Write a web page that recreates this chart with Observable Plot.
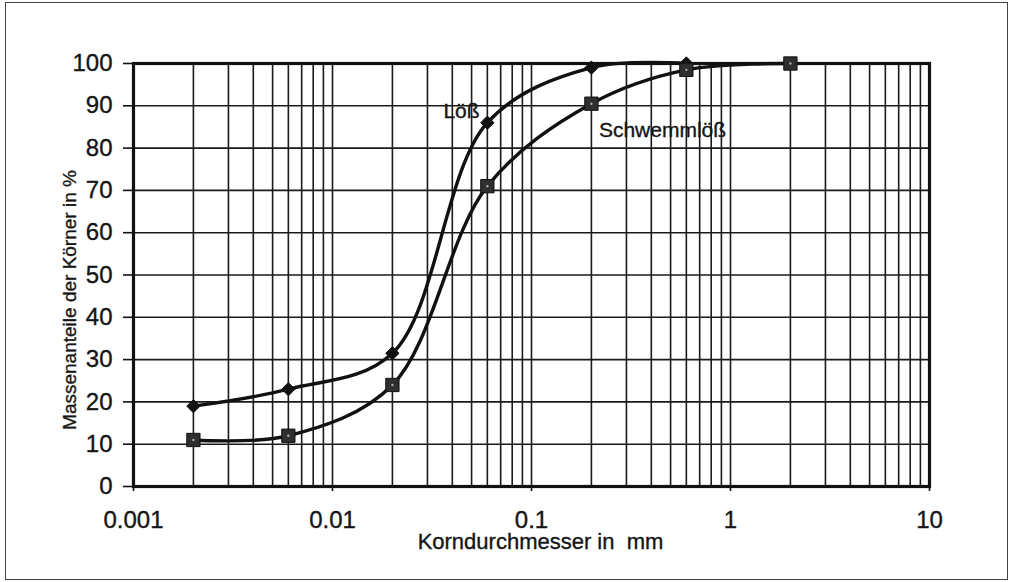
<!DOCTYPE html>
<html>
<head>
<meta charset="utf-8">
<script src="https://cdn.jsdelivr.net/npm/d3@7"></script>
<script src="https://cdn.jsdelivr.net/npm/@observablehq/plot@0.6"></script>
<style>
  html, body { margin: 0; padding: 0; background: #fff; }
  #wrap { position: relative; width: 1010px; height: 582px; }
  #border { position: absolute; left: 5px; top: 2px; width: 1003px; height: 578px;
            box-sizing: border-box; border: 1.5px solid #444; pointer-events: none; }
  #wrap svg text { stroke: #151515; stroke-width: 0.35px; }
</style>
</head>
<body>
<div id="wrap"><div id="border"></div></div>
<script>
// Data
const sizesLoess   = [0.002, 0.006, 0.02, 0.06, 0.2, 0.6];
const valuesLoess  = [19, 23, 31.5, 86, 99, 100];
const sizesSchwemm = [0.002, 0.006, 0.02, 0.06, 0.2, 0.6, 2];
const valuesSchwemm= [11, 12, 24, 71, 90.5, 98.5, 100];
const seriesNames  = ["Löß", "Schwemmlöß"];

const xTickValues = [0.001, 0.01, 0.1, 1, 10];
const xTickLabels = ["0.001", "0.01", "0.1", "1", "10"];
const yTickValues = [0, 10, 20, 30, 40, 50, 60, 70, 80, 90, 100];
const xGridValues = [
  0.002, 0.003, 0.004, 0.005, 0.006, 0.007, 0.008, 0.009,
  0.01, 0.02, 0.03, 0.04, 0.05, 0.06, 0.07, 0.08, 0.09,
  0.1, 0.2, 0.3, 0.4, 0.5, 0.6, 0.7, 0.8, 0.9,
  1, 2, 3, 4, 5, 6, 7, 8, 9
];
const xTitle = "Korndurchmesser in\u00a0 mm";
const yTitle = "Massenanteile der Körner in %";

const loess = sizesLoess.map((d, i) => ({x: d, y: valuesLoess[i]}));
const schwemm = sizesSchwemm.map((d, i) => ({x: d, y: valuesSchwemm[i]}));

const font = "'Liberation Sans', Arial, Helvetica, sans-serif";

const chart = Plot.plot({
  width: 1010,
  height: 582,
  marginTop: 63,
  marginRight: 81,
  marginBottom: 96,
  marginLeft: 133,
  style: {fontFamily: font, background: "transparent", color: "#111"},
  x: {type: "log", domain: [0.001, 10]},
  y: {domain: [0, 100]},
  marks: [
    Plot.ruleX(xGridValues, {stroke: "#1a1a1a", strokeWidth: 1.6}),
    Plot.ruleY(yTickValues, {stroke: "#1a1a1a", strokeWidth: 1.6}),
    Plot.frame({stroke: "#111", strokeWidth: 3.2}),
    Plot.axisY(yTickValues, {tickSize: 10, tickPadding: 11, fontSize: 24, label: null, strokeWidth: 1.6, stroke: "#111", fill: "#151515"}),
    Plot.axisX(xTickValues, {tickSize: 5, tickPadding: 19, fontSize: 24, label: null, strokeWidth: 1.6, stroke: "#111", fill: "#151515",
      tickFormat: d => xTickLabels[xTickValues.indexOf(d)]}),
    Plot.line(loess, {x: "x", y: "y", curve: "catmull-rom", stroke: "#111", strokeWidth: 3.4}),
    Plot.line(schwemm, {x: "x", y: "y", curve: "catmull-rom", stroke: "#111", strokeWidth: 3.4}),
    Plot.dot(loess, {x: "x", y: "y", symbol: "diamond2", r: 6, fill: "#111", stroke: "#111", strokeWidth: 1}),
    Plot.dot(schwemm, {x: "x", y: "y", symbol: "square", r: 7.5, fill: "#2e2e2e", stroke: "#111", strokeWidth: 1}),
    Plot.dot(schwemm, {x: "x", y: "y", r: 1.2, fill: "#aaa"}),
    Plot.text([seriesNames[0]], {frameAnchor: "top-left", dx: 328, dy: 48, textAnchor: "middle", lineAnchor: "middle", fontSize: 21, fill: "#151515"}),
    Plot.text([seriesNames[1]], {frameAnchor: "top-left", dx: 529, dy: 67, textAnchor: "middle", lineAnchor: "middle", fontSize: 21, fill: "#151515"}),
    Plot.text([xTitle], {frameAnchor: "bottom", dx: 9, dy: 55, textAnchor: "middle", lineAnchor: "middle", fontSize: 22, fill: "#151515"}),
    Plot.text([yTitle], {frameAnchor: "left", dx: -64, dy: 25, rotate: -90, textAnchor: "middle", lineAnchor: "middle", fontSize: 19, fill: "#151515"})
  ]
});
document.getElementById("wrap").prepend(chart);
</script>
</body>
</html>
